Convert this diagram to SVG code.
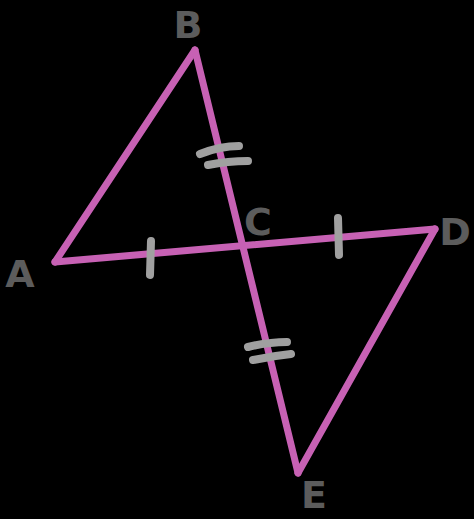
<svg xmlns="http://www.w3.org/2000/svg" width="474" height="519" viewBox="0 0 474 519">
<style>
.edge{stroke:#c761b4;stroke-width:7;stroke-linecap:round;stroke-linejoin:round;fill:none}
.tick{stroke:#a0a0a0;stroke-width:8;stroke-linecap:round;fill:none}
.lbl{font-family:"DejaVu Sans",sans-serif;font-size:38px;font-weight:bold;fill:#5c5c5c;text-anchor:middle}
</style>
<rect width="474" height="519" fill="#000"/>
<g id="connectors">
<line class="edge" x1="55" y1="262" x2="195" y2="50"/>
<line class="edge" x1="195" y1="50" x2="298" y2="473"/>
<line class="edge" x1="55" y1="262" x2="435" y2="229"/>
<line class="edge" x1="435" y1="229" x2="298" y2="473"/>
</g>
<g id="ticks">
<line class="tick" x1="151" y1="241" x2="150" y2="275"/>
<line class="tick" x1="338" y1="218" x2="339" y2="255"/>
<path class="tick" d="M200 154 Q220 146 239 146"/>
<path class="tick" d="M208 165 Q228 161 248 161"/>
<path class="tick" d="M248 347 Q268 342 287 342"/>
<path class="tick" d="M253 360 Q272 356 291 354"/>
</g>
<g id="A"><text class="lbl" x="20" y="287">A</text></g>
<g id="B"><text class="lbl" x="188" y="38">B</text></g>
<g id="C"><text class="lbl" x="258" y="235">C</text></g>
<g id="D"><text class="lbl" x="455" y="245">D</text></g>
<g id="E"><text class="lbl" x="314" y="508">E</text></g>
</svg>
